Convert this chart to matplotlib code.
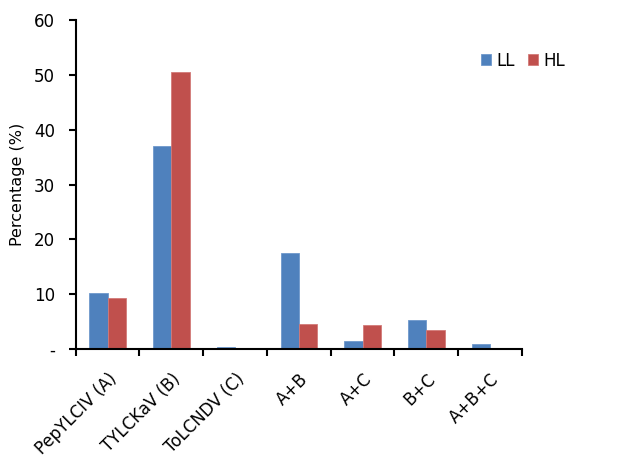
import matplotlib
matplotlib.use('Agg')
import matplotlib.pyplot as plt
import numpy as np

categories = ['PepYLCIV (A)', 'TYLCKaV (B)', 'ToLCNDV (C)', 'A+B', 'A+C', 'B+C', 'A+B+C']
ll = [10.2, 37.1, 0.45, 17.6, 1.4, 5.3, 0.9]
hl = [9.3, 50.5, 0.0, 4.6, 4.4, 3.5, 0.0]
yticks = [0, 10, 20, 30, 40, 50, 60]
ytick_labels = ['-', '10', '20', '30', '40', '50', '60']

plt.rcParams['font.family'] = ['DejaVu Sans']

fig = plt.figure(figsize=(6.42, 4.57), dpi=100)
ax = fig.add_axes([0.118, 0.236, 0.695, 0.72])

x = np.arange(len(categories))
w = 0.285
ax.bar(x - w / 2, ll, w, color='#4F81BD', edgecolor='#6E98CC', linewidth=0.6, label='LL')
ax.bar(x + w / 2, hl, w, color='#C0504D', edgecolor='#D27A78', linewidth=0.6, label='HL')

ax.set_xlim(-0.5, len(categories) - 0.5)
ax.set_ylim(0, 60)
ax.set_yticks(yticks)
ax.set_yticklabels(ytick_labels, fontsize=12)
ax.set_ylabel('Percentage (%)', fontsize=11.5, labelpad=6)

# ticks sit between categories, labels at the centres
ax.set_xticks(np.arange(len(categories) + 1) - 0.5)
ax.set_xticklabels([])
ax.set_xticks(x, minor=True)
ax.set_xticklabels(categories, minor=True, rotation=45, ha='right',
                   rotation_mode='anchor', fontsize=12)
ax.tick_params(axis='x', which='minor', length=0, pad=15)
ax.tick_params(axis='x', which='major', direction='out', length=5, width=1.5)
ax.tick_params(axis='y', direction='out', length=5, width=1.5, pad=10)

for s in ['top', 'right']:
    ax.spines[s].set_visible(False)
for s in ['left', 'bottom']:
    ax.spines[s].set_linewidth(1.5)

ax.legend(loc='upper left', bbox_to_anchor=(0.875, 0.95), ncol=2, frameon=False,
          fontsize=12, handlelength=0.6, handleheight=0.6, handletextpad=0.3,
          columnspacing=0.8)

fig.savefig('out.png', dpi=100)
